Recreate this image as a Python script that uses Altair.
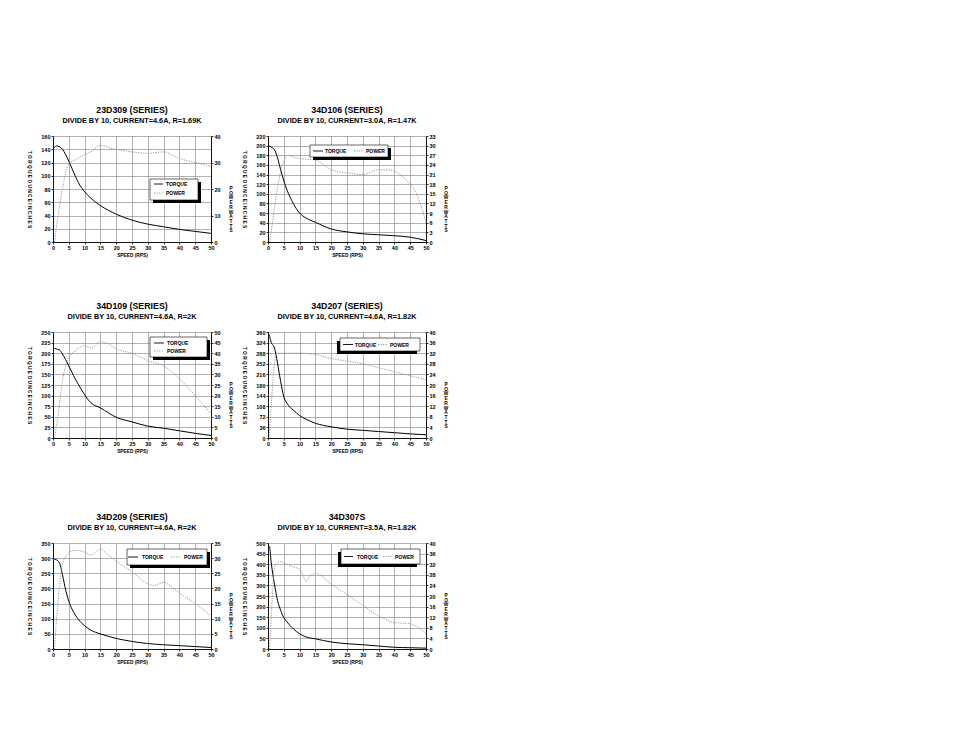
import altair as alt
import pandas as pd

FONT = "Liberation Sans"
W, H = 158, 106

SPEED_TICKS = [0, 5, 10, 15, 20, 25, 30, 35, 40, 45, 50]
T_SPEED = [0, 0.5, 1, 2, 3, 4, 5, 6, 7, 8, 10, 12, 15, 20, 25, 30, 35, 40, 45, 50]

# ---- 23D309 ----
P1_TORQUE = [143, 143, 145, 144, 140, 132, 122, 111, 100, 90, 76, 66, 55, 42, 33, 27, 23, 19, 16, 13]
P1_PSPEED = [0.5, 1, 2, 3, 4, 5, 7, 10, 12, 15, 18, 20, 25, 30, 35, 40, 45, 50]
P1_POWER = [0, 5, 13, 20, 26, 29.5, 31, 33, 34, 36.5, 35.5, 35, 34, 33.5, 34, 31.5, 30, 28.5]
P1_TTICKS = [0, 20, 40, 60, 80, 100, 120, 140, 160]
P1_PTICKS = [0, 10, 20, 30, 40]

# ---- 34D106 ----
P2_TORQUE = [200, 199, 197, 192, 175, 150, 127, 108, 93, 80, 60, 50, 41, 27, 21, 17, 15, 13, 10, 3]
P2_PSPEED = [0.5, 2, 3, 4, 5, 6, 8, 10, 15, 20, 25, 30, 35, 38, 40, 43, 45, 47, 48.5, 50]
P2_POWER = [0, 10, 17, 22, 25, 27, 26.5, 26, 25.5, 22.5, 21.5, 21, 22.5, 22.5, 22, 20, 18, 15, 11, 6]
P2_TTICKS = [0, 20, 40, 60, 80, 100, 120, 140, 160, 180, 200, 220]
P2_PTICKS = [0, 3, 6, 9, 12, 15, 18, 21, 24, 27, 30, 33]

# ---- 34D109 ----
P3_TORQUE = [212, 211, 210, 208, 198, 185, 170, 155, 140, 127, 102, 83, 71, 49, 38, 28, 23, 17, 11, 6]
P3_PSPEED = [0.5, 1, 2, 3, 4, 5, 7, 10, 12, 15, 18, 20, 25, 30, 35, 40, 45, 50]
P3_POWER = [0, 5, 15, 27, 34, 38, 41, 43.5, 42.5, 45.5, 44, 42, 40, 36.5, 34, 28, 20, 11.5]
P3_TTICKS = [0, 25, 50, 75, 100, 125, 150, 175, 200, 225, 250]
P3_PTICKS = [0, 5, 10, 15, 20, 25, 30, 35, 40, 45, 50]

# ---- 34D207 ----
P4_TORQUE = [358, 345, 325, 308, 255, 192, 140, 118, 104, 95, 76, 64, 50, 38, 30, 26, 22, 18, 14, 11]
P4_PSPEED = [0.3, 1, 2, 2.5, 5, 10, 15, 20, 25, 30, 35, 40, 45, 50]
P4_POWER = [0, 12, 28, 32, 32, 32, 31.5, 30, 29, 28, 26.5, 25, 23.5, 22]
P4_TTICKS = [0, 36, 72, 108, 144, 180, 216, 252, 288, 324, 360]
P4_PTICKS = [0, 4, 8, 12, 16, 20, 24, 28, 32, 36, 40]

# ---- 34D209 ----
P5_TORQUE = [298, 297, 295, 285, 245, 195, 158, 132, 113, 98, 77, 62, 50, 35, 25, 18, 14, 11, 8, 5]
P5_PSPEED = [0.5, 1, 2, 3, 4, 5, 6, 8, 10, 12, 13.5, 15, 17, 20, 25, 30, 32, 35, 37, 40, 45, 50]
P5_POWER = [0, 8, 20, 28, 30.5, 31.5, 32.5, 32.5, 32, 31, 32, 33, 31.5, 29, 25.5, 21.5, 21, 22, 21, 18.5, 15, 11]
P5_TTICKS = [0, 50, 100, 150, 200, 250, 300, 350]
P5_PTICKS = [0, 5, 10, 15, 20, 25, 30, 35]

# ---- 34D307S ----
P6_TORQUE = [490, 480, 410, 310, 230, 183, 148, 128, 110, 95, 72, 57, 48, 33, 25, 20, 14, 8, 6, 4]
P6_PSPEED = [0.5, 1, 1.5, 2, 3, 4, 5, 8, 10, 11, 12, 13, 15, 20, 25, 30, 35, 40, 45, 50]
P6_POWER = [0, 12, 22, 31, 32.5, 33, 32.5, 31, 30, 28, 25.5, 27, 28.5, 24.5, 20.5, 16.5, 12.5, 10, 9.5, 6]
P6_TTICKS = [0, 50, 100, 150, 200, 250, 300, 350, 400, 450, 500]
P6_PTICKS = [0, 4, 8, 12, 16, 20, 24, 28, 32, 36, 40]

TITLES = ["23D309 (SERIES)", "34D106 (SERIES)", "34D109 (SERIES)",
          "34D207 (SERIES)", "34D209 (SERIES)", "34D307S"]
SUBTITLES = ["DIVIDE BY 10, CURRENT=4.6A, R=1.69K",
             "DIVIDE BY 10, CURRENT=3.0A, R=1.47K",
             "DIVIDE BY 10, CURRENT=4.6A, R=2K",
             "DIVIDE BY 10, CURRENT=4.6A, R=1.82K",
             "DIVIDE BY 10, CURRENT=4.6A, R=2K",
             "DIVIDE BY 10, CURRENT=3.5A, R=1.82K"]

# legend layout (pixels inside each plot area) -- styling only
LEGENDS = [
    {"box": (97, 43, 145, 64), "dx": 3, "vertical": True, "rows": (48, 57), "line": (101, 110), "text": 113},
    {"box": (42, 9, 120, 21), "dx": 3, "vertical": False, "y": 15, "tline": (45, 55), "ttext": 57, "pline": (86, 95), "ptext": 98},
    {"box": (97, 5, 154, 25), "dx": 3, "vertical": True, "rows": (11, 19), "line": (101, 111), "text": 114},
    {"box": (72, 6, 152, 19), "dx": -3, "vertical": False, "y": 12.5, "tline": (75, 85), "ttext": 87, "pline": (110, 119), "ptext": 122},
    {"box": (74, 6, 154, 22), "dx": 3, "vertical": False, "y": 14, "tline": (75, 85), "ttext": 89, "pline": (118, 128), "ptext": 131},
    {"box": (73, 6, 152, 21), "dx": -3, "vertical": False, "y": 13.5, "tline": (76, 85), "ttext": 89, "pline": (115, 124), "ptext": 127},
]

PANEL_DATA = [
    (P1_TORQUE, P1_PSPEED, P1_POWER, P1_TTICKS, P1_PTICKS),
    (P2_TORQUE, P2_PSPEED, P2_POWER, P2_TTICKS, P2_PTICKS),
    (P3_TORQUE, P3_PSPEED, P3_POWER, P3_TTICKS, P3_PTICKS),
    (P4_TORQUE, P4_PSPEED, P4_POWER, P4_TTICKS, P4_PTICKS),
    (P5_TORQUE, P5_PSPEED, P5_POWER, P5_TTICKS, P5_PTICKS),
    (P6_TORQUE, P6_PSPEED, P6_POWER, P6_TTICKS, P6_PTICKS),
]

LEFT_TITLE = "T O R Q U E   O U N C E   I N C H E S"
RIGHT_TITLE = "P\nO\nW\nE\nR\n \nW\nA\nT\nT\nS"
POWER_DASH = [1.2, 1.3]
POWER_COLOR = "#8a8a8a"


def legend_layers(lg):
    one = alt.Chart(pd.DataFrame({"k": [0]}))
    x0, y0, x1, y1 = lg["box"]
    dx = lg["dx"]
    layers = [
        one.mark_text(align="center", baseline="middle", fontSize=4.8, fontWeight="bold",
                      font=FONT, lineBreak="\n", lineHeight=4.7).encode(
            x=alt.value(W + 20), y=alt.value(H / 2), text=alt.value(RIGHT_TITLE)),
        one.mark_rect(color="black").encode(
            x=alt.value(x0 + dx), x2=alt.value(x1 + dx),
            y=alt.value(y0 + 3), y2=alt.value(y1 + 3)),
        one.mark_rect(fill="white", stroke="black", strokeWidth=0.6).encode(
            x=alt.value(x0), x2=alt.value(x1), y=alt.value(y0), y2=alt.value(y1)),
    ]
    if lg["vertical"]:
        items = [(lg["line"], lg["rows"][0], lg["text"], lg["rows"][0], "TORQUE", False),
                 (lg["line"], lg["rows"][1], lg["text"], lg["rows"][1], "POWER", True)]
    else:
        items = [(lg["tline"], lg["y"], lg["ttext"], lg["y"], "TORQUE", False),
                 (lg["pline"], lg["y"], lg["ptext"], lg["y"], "POWER", True)]
    for (lx, ly, tx, ty, label, dotted) in items:
        if dotted:
            rule = one.mark_rule(color=POWER_COLOR, strokeWidth=0.9, strokeDash=POWER_DASH)
        else:
            rule = one.mark_rule(color="black", strokeWidth=0.9)
        layers.append(rule.encode(x=alt.value(lx[0]), x2=alt.value(lx[1]), y=alt.value(ly)))
        layers.append(one.mark_text(align="left", baseline="middle", fontSize=5,
                                    fontWeight="bold", font=FONT).encode(
            x=alt.value(tx), y=alt.value(ty), text=alt.value(label)))
    return layers


def panel(i):
    torque, pspeed, power, tticks, pticks = PANEL_DATA[i]
    tdf = pd.DataFrame({"speed": T_SPEED, "torque": torque})
    pdf = pd.DataFrame({"speed": pspeed, "power": power})
    xenc = alt.X("speed:Q", scale=alt.Scale(domain=[0, 50], nice=False),
                 axis=alt.Axis(values=SPEED_TICKS, title="SPEED (RPS)", grid=True,
                               titlePadding=2, labelFlush=False))
    tline = alt.Chart(tdf).mark_line(color="black", strokeWidth=1, interpolate="monotone").encode(
        x=xenc,
        y=alt.Y("torque:Q", scale=alt.Scale(domain=[tticks[0], tticks[-1]], nice=False),
                axis=alt.Axis(orient="left", values=tticks, grid=True, title=LEFT_TITLE,
                              titleAngle=90, titleBaseline="top", titleAlign="center",
                              minExtent=14, maxExtent=14, titlePadding=7.5)))
    pline = alt.Chart(pdf).mark_line(color=POWER_COLOR, strokeWidth=0.9, strokeDash=POWER_DASH,
                                     interpolate="monotone").encode(
        x=xenc,
        y=alt.Y("power:Q", scale=alt.Scale(domain=[pticks[0], pticks[-1]], nice=False),
                axis=alt.Axis(orient="right", values=pticks, grid=False, title=None,
                              minExtent=12, maxExtent=12)))
    return alt.layer(tline, pline, *legend_layers(LEGENDS[i])).resolve_scale(
        y="independent").properties(
        width=W, height=H,
        title=alt.TitleParams(text=TITLES[i], subtitle=SUBTITLES[i], anchor="middle", frame="group",
                              fontSize=8.8, font=FONT, fontWeight="bold", color="black",
                              subtitleFont=FONT, subtitleFontSize=7.3, subtitleColor="black",
                              subtitleFontWeight="bold", subtitlePadding=2, offset=10))


row1 = alt.hconcat(panel(0), panel(1), spacing=7)
row2 = alt.hconcat(panel(2), panel(3), spacing=7)
row3 = alt.hconcat(panel(4), panel(5), spacing=7)
top = alt.vconcat(row1, row2, spacing=43)
chart = alt.vconcat(top, row3, spacing=58).properties(
    padding={"left": 18, "top": 97, "right": 5, "bottom": 5},
    background="white",
).configure_axis(
    labelFont=FONT, labelFontSize=5.5, labelFontWeight="bold", labelColor="black",
    labelPadding=1, tickSize=2, tickColor="black", tickWidth=0.8,
    domainColor="black", domainWidth=0.9, gridColor="#8f8f8f", gridWidth=0.7,
    titleFont=FONT, titleFontSize=4.8, titleFontWeight="bold", titleColor="black",
).configure_view(stroke=None)

chart.save("out.html", embed_options={"renderer": "svg", "actions": False})
